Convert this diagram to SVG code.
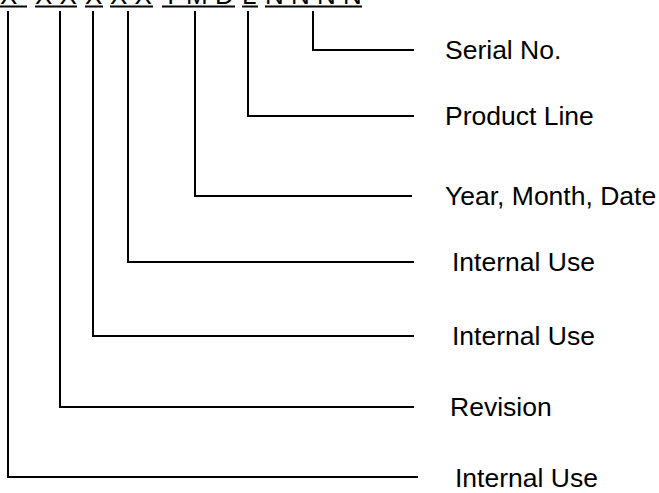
<svg xmlns="http://www.w3.org/2000/svg" width="659" height="493" viewBox="0 0 659 493">
<style>
.t{font-family:"Liberation Sans",Arial,sans-serif;font-size:26px;fill:#000}
.l{font-size:26.5px}
.c line,.c polyline{stroke:#000;stroke-width:2;fill:none}
.u{stroke:#000;stroke-width:2}
</style>
<rect width="659" height="493" fill="#fff"/>
<g id="code">
<text class="t" x="0" y="4">X</text>
<text class="t" x="35" y="4" xml:space="preserve">X X</text>
<text class="t" x="85" y="4">X</text>
<text class="t" x="110" y="4" xml:space="preserve">X X</text>
<text class="t" x="162" y="4" xml:space="preserve">Y M D</text>
<text class="t" x="242" y="4">L</text>
<text class="t" x="265" y="4" xml:space="preserve">N N N N</text>
<line class="u" x1="0" y1="6.5" x2="27" y2="6.5"/>
<line class="u" x1="35" y1="6.5" x2="77" y2="6.5"/>
<line class="u" x1="85" y1="6.5" x2="103" y2="6.5"/>
<line class="u" x1="110" y1="6.5" x2="153" y2="6.5"/>
<line class="u" x1="162" y1="6.5" x2="235" y2="6.5"/>
<line class="u" x1="242" y1="6.5" x2="258" y2="6.5"/>
<line class="u" x1="265" y1="6.5" x2="362" y2="6.5"/>
</g>
<g id="connectors" class="c">
<polyline points="313,11 313,50 414,50"/>
<polyline points="248,11 248,116 414,116"/>
<polyline points="195,11 195,196 412,196"/>
<polyline points="128,11 128,262 414,262"/>
<polyline points="93,11 93,336 414,336"/>
<polyline points="60,11 60,407 414,407"/>
<polyline points="8,11 8,477 418,477"/>
</g>
<g id="serial"><text class="t l" x="445" y="59">Serial No.</text></g>
<g id="productline"><text class="t l" x="445" y="125">Product Line</text></g>
<g id="ymd"><text class="t l" x="445" y="205">Year, Month, Date</text></g>
<g id="internal1"><text class="t l" x="452" y="271">Internal Use</text></g>
<g id="internal2"><text class="t l" x="452" y="345">Internal Use</text></g>
<g id="revision"><text class="t l" x="450" y="416">Revision</text></g>
<g id="internal3"><text class="t l" x="455" y="487">Internal Use</text></g>
</svg>
